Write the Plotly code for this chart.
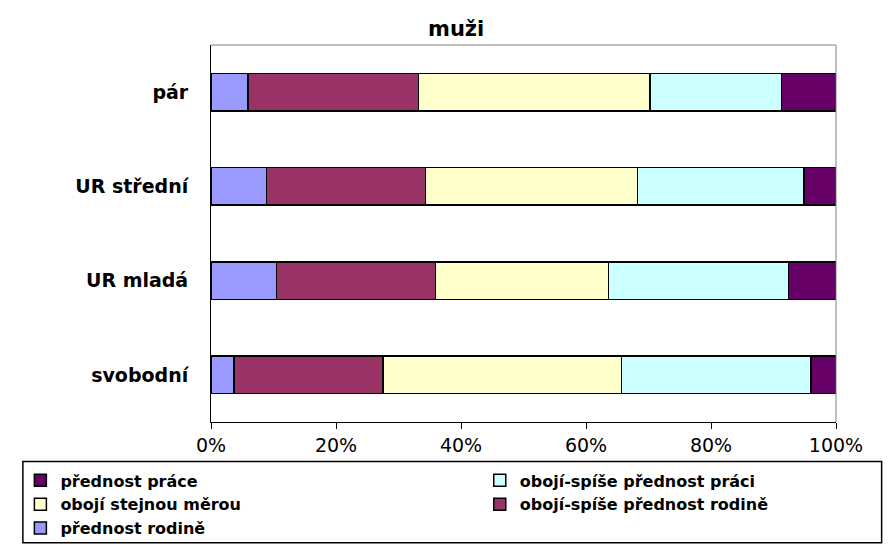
import plotly.graph_objects as go

categories = ["svobodní", "UR mladá", "UR střední", "pár"]
series_names = ["přednost rodině", "obojí-spíše přednost rodině", "obojí stejnou měrou",
                "obojí-spíše přednost práci", "přednost práce"]
values = [
    [3.7, 10.5, 8.9, 5.9],
    [23.8, 25.4, 25.4, 27.3],
    [38.2, 27.7, 33.9, 37.0],
    [30.3, 28.8, 26.7, 21.1],
    [4.0, 7.6, 5.1, 8.7],
]
colors = ["#9999FF", "#993366", "#FFFFCC", "#CCFFFF", "#660066"]
ticks = [0, 20, 40, 60, 80, 100]

fig = go.Figure()
for i, (name, vals, col) in enumerate(zip(series_names, values, colors)):
    fig.add_trace(go.Bar(y=categories, x=vals, name="<b>%s</b>" % name, orientation="h",
                         legend="legend" if i % 2 == 0 else "legend2",
                         marker=dict(color=col, line=dict(color="black", width=1.5))))

leg = dict(font=dict(size=16, family="DejaVu Sans"), bgcolor="rgba(0,0,0,0)",
           xanchor="left", yanchor="top", tracegroupgap=0, itemwidth=30)
fig.update_layout(
    barmode="stack", bargap=0.6, width=891, height=549,
    plot_bgcolor="white", paper_bgcolor="white",
    font=dict(family="DejaVu Sans", color="black"),
    title=dict(text="<b>muži</b>", x=0.503, y=0.975, xanchor="center", yanchor="top",
               font=dict(size=21)),
    margin=dict(l=199, r=63, t=37, b=135),
    xaxis=dict(range=[0, 100], tickvals=ticks, ticktext=["%d%%" % t for t in ticks],
               showgrid=False, ticks="outside", ticklen=6, tickcolor="black",
               showline=True, linecolor="black", tickfont=dict(size=19), automargin=False),
    yaxis=dict(showline=True, linecolor="black", ticks="", showgrid=False, automargin=False,
               tickvals=categories, ticktext=["<b>%s</b>" % c for c in categories],
               tickfont=dict(size=19), ticklabelstandoff=18),
    legend=dict(x=-0.305, y=-0.11, **leg),
    legend2=dict(x=0.43, y=-0.11, **leg),
    shapes=[dict(type="rect", xref="paper", yref="paper", x0=-0.301, x1=1.073,
                 y0=-0.32, y1=-0.105, line=dict(color="black", width=1.5)),
            dict(type="line", xref="paper", yref="paper", x0=0, x1=1, y0=1, y1=1,
                 line=dict(color="gray", width=1)),
            dict(type="line", xref="paper", yref="paper", x0=1, x1=1, y0=0, y1=1,
                 line=dict(color="gray", width=1))],
)

fig.write_html("out.html")
